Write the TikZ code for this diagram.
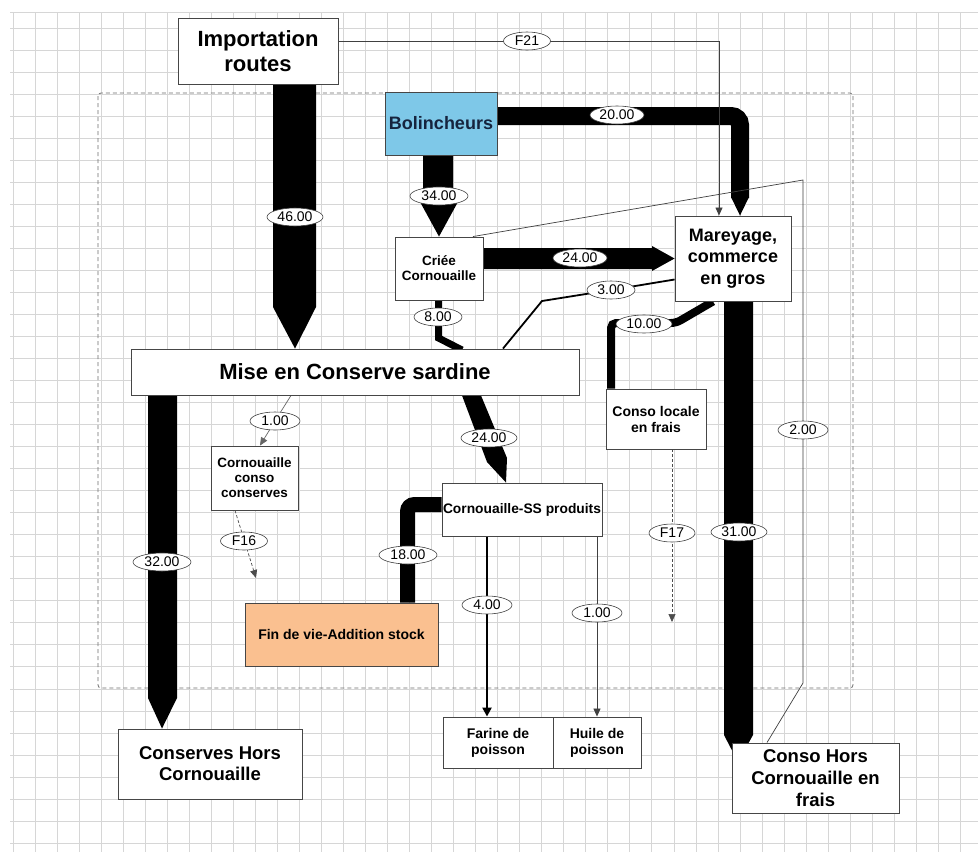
\documentclass[tikz,border=0pt]{standalone}
\usepackage{fontspec}
\setmainfont{Liberation Sans}
\usetikzlibrary{calc,arrows.meta,shapes.geometric}
\definecolor{gridc}{RGB}{214,214,214}
\definecolor{boxc}{RGB}{70,70,70}
\definecolor{bolc}{RGB}{126,200,232}
\definecolor{peach}{RGB}{250,192,144}
\definecolor{navy}{RGB}{22,36,62}
\definecolor{dashc}{RGB}{110,110,110}
\pgfdeclarelayer{gridlayer}
\pgfdeclarelayer{flowlayer}
\pgfsetlayers{gridlayer,flowlayer,main}
\newcommand{\fsz}[2]{\fontsize{#1}{#2}\selectfont}
\tikzset{
  box/.style={draw=boxc, line width=0.9pt, fill=white, rectangle, inner sep=0pt, align=center, font=\bfseries},
  lab/.style={ellipse, draw=black!75, fill=white, line width=0.6pt, inner sep=0pt, minimum width=54pt, minimum height=18pt, font=\fsz{14}{14}},
  thinflow/.style={draw=black!75, line width=0.7pt},
  tip/.style={-{Triangle[length=8pt,width=7pt]}},
  dashflow/.style={draw=black!70, line width=0.7pt, dash pattern=on 3pt off 2pt},
}
\begin{document}
\begin{tikzpicture}[x=1pt,y=-1pt]
\useasboundingbox (0,0) rectangle (978,852);
% grid
\begin{pgfonlayer}{gridlayer}
\fill[white] (0,0) rectangle (978,852);
\foreach \i in {0,...,43} \draw[gridc, line width=0.8pt] ({13+22.03*\i},12) -- ({13+22.03*\i},852);
\draw[gridc, line width=0.8pt] (10,12) -- (978,12);
\foreach \k in {0,...,37} \draw[gridc, line width=0.8pt] (10,{28+22.03*\k}) -- (978,{28+22.03*\k});
\draw[dashc, line width=0.8pt, dash pattern=on 4pt off 3pt, rounded corners=3pt] (98,93) rectangle (853,688);
\end{pgfonlayer}

% boxes
\node[box, minimum width=160pt, minimum height=66pt, font=\bfseries\fsz{22}{25}] (imp) at (258,51.5) {Importation\\routes};
\node[box, fill=bolc, text=navy, minimum width=112pt, minimum height=63pt, font=\bfseries\fsz{18}{21}] (bol) at (441,123.5) {Bolincheurs};
\node[box, minimum width=88pt, minimum height=63pt, font=\bfseries\fsz{13.5}{15}] (crie) at (439,268.5) {Criée\\Cornouaille};
\node[box, minimum width=116pt, minimum height=85pt, font=\bfseries\fsz{18}{21.5}] (mar) at (733,258.5) {Mareyage,\\commerce\\en gros};
\node[box, minimum width=448pt, minimum height=46pt, font=\bfseries\fsz{22}{25}] (mise) at (355,372) {Mise en Conserve sardine};
\node[box, minimum width=87pt, minimum height=64pt, font=\bfseries\fsz{13.5}{15}] (ccc) at (254.5,478) {Cornouaille\\conso\\conserves};
\node[box, minimum width=100pt, minimum height=60pt, font=\bfseries\fsz{14}{16}] (cloc) at (656,419) {Conso locale\\en frais};
\node[box, minimum width=160pt, minimum height=53pt, font=\bfseries\fsz{13.8}{16}] (ssp) at (522,509.5) {Cornouaille-SS produits};
\node[box, fill=peach, minimum width=193pt, minimum height=63pt, font=\bfseries\fsz{14}{16}] (fin) at (341.5,634.5) {Fin de vie-Addition stock};
\node[box, minimum width=184pt, minimum height=70pt, font=\bfseries\fsz{18.5}{21}] (chc) at (210,764) {Conserves Hors\\Cornouaille};
\node[box, minimum width=110pt, minimum height=51pt, font=\bfseries\fsz{14}{16}] (far) at (498,742.5) {Farine de\\poisson};
\node[box, minimum width=88pt, minimum height=51pt, font=\bfseries\fsz{14}{16}] (hui) at (597,742.5) {Huile de\\poisson};
\node[box, minimum width=167pt, minimum height=70pt, font=\bfseries\fsz{18.5}{22}] (chf) at (815.5,778) {Conso Hors\\Cornouaille en\\frais};

% flows
\begin{pgfonlayer}{flowlayer}
% 46.00 Importation -> Mise
\fill[black] (imp.south -| 273,0) -- (imp.south -| 316,0) -- (316,307) -- (mise.north -| 295,0) -- (273,307) -- cycle;
% 34.00 Bolincheurs -> Criee
\fill[black] (bol.south -| 423,0) -- (bol.south -| 453,0) -- (453,200) -- (459,200) -- (crie.north) -- (419,200) -- (423,200) -- cycle;
% 20.00 Bolincheurs -> Mareyage
\draw[black, line width=18pt, rounded corners=9pt] (bol.east |- 0,116) -- (740,116) -- (740,198);
\fill[black] (731,197) -- (749,197) -- (mar.north -| 740,0) -- cycle;
% 24.00 Criee -> Mareyage
\fill[black] (crie.east |- 0,248) -- (652,248) -- (652,246) -- (mar.west) -- (652,271) -- (652,269) -- (crie.east |- 0,269) -- cycle;
% 8.00 Criee -> Mise
\draw[black, line width=7pt, line join=miter] (crie.south -| 438.5,0) -- (438.5,338) -- (462,350);
% 3.00 Mareyage -> Mise
\draw[black, line width=1.8pt] (mar.west |- 0,279.5) -- (611,290) -- (542,301) -- (mise.north -| 503,0);
% 10.00 Mareyage -> Conso locale
\draw[black, line width=8pt, rounded corners=5pt] (mar.south -| 713,0) -- (676,323) -- (611,323) -- (cloc.north -| 611,0);
% 31.00 Mareyage -> Conso Hors frais
\fill[black] (mar.south -| 724,0) -- (mar.south -| 753,0) -- (753,735) -- (738,762) -- (724,735) -- cycle;
% 32.00 Mise -> Conserves Hors
\fill[black] (mise.south -| 148,0) -- (mise.south -| 177,0) -- (177,698) -- (chc.north -| 162,0) -- (148,698) -- cycle;
% 24.00 Mise -> SS produits
\fill[black] (mise.south -| 462,0) -- (mise.south -| 481,0) -- (507,458) -- (ssp.north -| 506,0) -- (487,462) -- cycle;
% 18.00 SS produits -> Fin de vie
\draw[black, line width=15pt, rounded corners=7pt] (ssp.west |- 0,504.5) -- (407.5,504.5) -- (fin.north -| 407.5,0);
% 4.00 SS -> Farine
\draw[black, line width=2.5pt, -{Triangle[length=9pt,width=9pt]}] (ssp.south -| 487,0) -- (far.north -| 487,0);
% 1.00 SS -> Huile
\draw[thinflow, tip] (ssp.south -| 597,0) -- (hui.north);
% 1.00 Mise -> Cornouaille conso
\draw[thinflow, draw=black!60, tip] (mise.south -| 291,0) -- (275,421) -- (ccc.north -| 260,0);
% F16
\draw[dashflow, tip] (ccc.south -| 235,0) -- (256,578) coordinate (f16end);
% F17
\draw[dashflow, tip] (cloc.south -| 672,0) -- (672,622) coordinate (f17end);
% F21
\draw[thinflow, tip] (imp.east |- 0,41) -- (719,41) -- (mar.north -| 719,0);
% 2.00
\draw[thinflow] (crie.north -| 473,0) -- (803,180) -- (803,683) -- (chf.north -| 767,0);
\end{pgfonlayer}

% labels
\node[lab, minimum width=47pt] (lf21) at (527,41) {F21};
\node[lab] (l20) at (617,115) {20.00};
\node[lab, minimum width=58pt] (l34) at (439,196) {34.00};
\node[lab, minimum width=56pt] (l46) at (295,217) {46.00};
\node[lab] (l24a) at (580,258) {24.00};
\node[lab, minimum width=48pt] (l3) at (611,290) {3.00};
\node[lab, minimum width=48pt] (l8) at (438,317) {8.00};
\node[lab, minimum width=56pt] (l10) at (644,324) {10.00};
\node[lab, minimum width=50pt] (l1a) at (275,421) {1.00};
\node[lab, minimum width=56pt] (l24b) at (489,438) {24.00};
\node[lab, minimum width=50pt] (l2) at (803,430) {2.00};
\node[lab, minimum width=46pt] (lf17) at (672,533) {F17};
\node[lab, minimum width=56pt] (l31) at (739,532) {31.00};
\node[lab, minimum width=47pt] (lf16) at (244,541) {F16};
\node[lab, minimum width=58pt] (l18) at (408,555) {18.00};
\node[lab, minimum width=58pt] (l32) at (162,562) {32.00};
\node[lab, minimum width=50pt] (l4) at (487,605) {4.00};
\node[lab, minimum width=50pt] (l1b) at (597,613) {1.00};
\end{tikzpicture}
\end{document}
